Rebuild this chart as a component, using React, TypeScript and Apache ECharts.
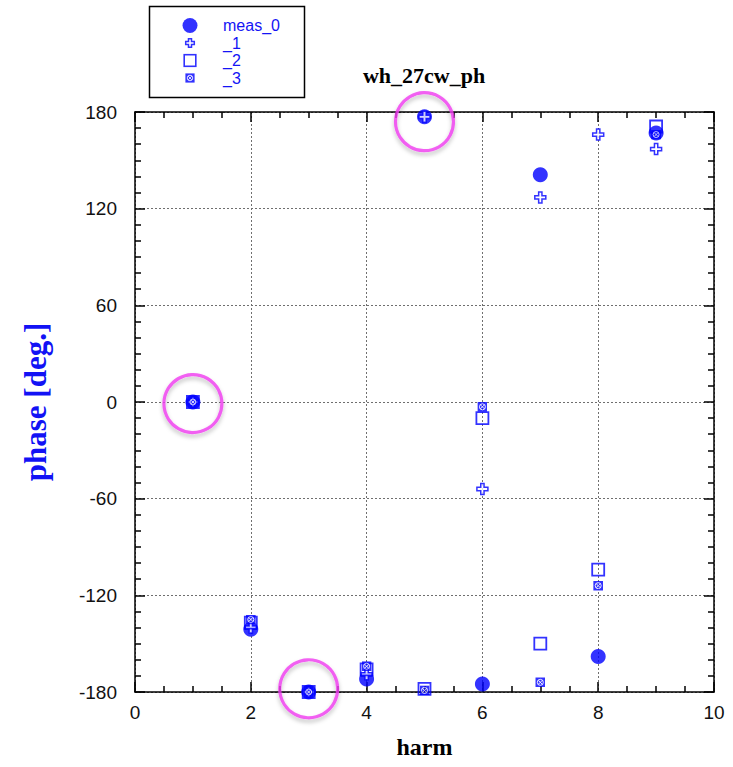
import React, { useEffect, useRef } from "react";
import * as echarts from "echarts";

// harmonic number on the x axis
const harm = [1, 2, 3, 4, 5, 6, 7, 8, 9];
// measured phase per harmonic, degrees
const meas0 = [0, -141, -180, -172, 177, -175, 141, -158, 167];
const meas1 = [0, -140, -180, -169, 177, -54, 127, 166, 157];
const meas2 = [0, -137, -180, -166, -178, -10, -150, -104, 171];
const meas3 = [0, -135, -180, -164, -179, -3, -174, -114, 166];
// hand-drawn highlight rings
const ringX = [1, 3, 5];
const ringY = [-1, -178, 174];

const seriesNames = ["meas_0", "_1", "_2", "_3"];
const xTicks = { min: 0, max: 10, step: 2 };
const yTicks = { min: -180, max: 180, step: 60 };

const BLUE = "#0000ff";
const SANS = "'Liberation Sans', Arial, Helvetica, sans-serif";
const SERIF = "'Liberation Serif', 'Times New Roman', serif";

const svgImage = (w: number, h: number, inner: string) =>
  "image://data:image/svg+xml;utf8," +
  encodeURIComponent(
    `<svg xmlns="http://www.w3.org/2000/svg" width="${w}" height="${h}" viewBox="0 0 ${w} ${h}">${inner}</svg>`
  );

// blue square with a white circled cross
const xCircle = (cx: number, cy: number, s: number) =>
  `<rect x="${cx - s}" y="${cy - s}" width="${2 * s}" height="${2 * s}" fill="${BLUE}"/>` +
  `<circle cx="${cx}" cy="${cy}" r="${0.6 * s}" fill="none" stroke="#fff" stroke-width="${0.18 * s}"/>` +
  `<path d="M${cx - 0.4 * s} ${cy - 0.4 * s}L${cx + 0.4 * s} ${cy + 0.4 * s}M${cx + 0.4 * s} ${cy - 0.4 * s}L${cx - 0.4 * s} ${cy + 0.4 * s}" stroke="#fff" stroke-width="${0.18 * s}"/>`;

const plusPath = (cx: number, cy: number, s: number) => {
  const a = s * 0.35;
  return `M${cx - a} ${cy - s}H${cx + a}V${cy - a}H${cx + s}V${cy + a}H${cx + a}V${cy + s}H${cx - a}V${cy + a}H${cx - s}V${cy - a}H${cx - a}Z`;
};

const PLUS_SYMBOL = "path://M3.5,0H6.5V3.5H10V6.5H6.5V10H3.5V6.5H0V3.5H3.5Z";
const XCIRCLE_SYMBOL = svgImage(10, 10, xCircle(5, 5, 5));

const legendIcons = [
  svgImage(36, 16, `<circle cx="8" cy="8" r="7.5" fill="${BLUE}"/>`),
  svgImage(36, 16, `<path d="${plusPath(8, 8, 4.3)}" fill="#fff" stroke="${BLUE}" stroke-width="1.5"/>`),
  svgImage(36, 16, `<rect x="2.2" y="2.2" width="11.6" height="11.6" fill="none" stroke="${BLUE}" stroke-width="1.6"/>`),
  svgImage(36, 16, xCircle(8, 8, 4.6)),
];

const pairs = (ys: number[]) => harm.map((x, i) => [x, ys[i]]);

const axisLineStyle = { color: "#000", width: 1.5 };

export default function App() {
  const ref = useRef<HTMLDivElement>(null);

  useEffect(() => {
    if (!ref.current) return;
    const chart = echarts.init(ref.current, undefined, { renderer: "svg" });

    const baseX = {
      type: "value" as const,
      min: xTicks.min,
      max: xTicks.max,
      interval: xTicks.step,
      axisLine: { show: true, onZero: false, lineStyle: axisLineStyle },
      axisTick: { show: true, inside: true, length: 10, lineStyle: axisLineStyle },
      minorTick: { show: true, splitNumber: 4, length: 6, lineStyle: axisLineStyle },
    };
    const baseY = {
      type: "value" as const,
      min: yTicks.min,
      max: yTicks.max,
      interval: yTicks.step,
      axisLine: { show: true, onZero: false, lineStyle: axisLineStyle },
      axisTick: { show: true, inside: true, length: 10, lineStyle: axisLineStyle },
      minorTick: { show: true, splitNumber: 6, length: 6, lineStyle: axisLineStyle },
    };
    const dotted = { show: true, lineStyle: { color: "#6f6f6f", width: 1, type: [2, 2] as number[] } };
    const tickFont = { color: "#111", fontFamily: SANS, fontSize: 19 };

    chart.setOption({
      animation: false,
      backgroundColor: "#fff",
      grid: { left: 135, right: 19, top: 112, bottom: 75 },
      legend: {
        orient: "vertical",
        left: 182,
        top: 17.5,
        padding: 0,
        itemWidth: 36,
        itemHeight: 16,
        itemGap: 1.5,
        selectedMode: false,
        data: seriesNames.map((n, i) => ({ name: n, icon: legendIcons[i] })),
        textStyle: { color: "#1414f5", fontFamily: SANS, fontSize: 16, padding: 0 },
      },
      xAxis: [
        {
          ...baseX,
          position: "bottom",
          name: "harm",
          nameLocation: "middle",
          nameGap: 43,
          nameTextStyle: { fontFamily: SERIF, fontWeight: "bold", fontSize: 24, color: "#000" },
          axisLabel: { ...tickFont, margin: 11 },
          splitLine: dotted,
        },
        {
          ...baseX,
          position: "top",
          axisLabel: { show: false },
          splitLine: { show: false },
        },
      ],
      yAxis: [
        {
          ...baseY,
          position: "left",
          name: "phase [deg.]",
          nameLocation: "middle",
          nameGap: 84,
          nameTextStyle: { fontFamily: SERIF, fontWeight: "bold", fontSize: 31, color: "#1212f5" },
          axisLabel: { ...tickFont, margin: 18 },
          splitLine: dotted,
        },
        {
          ...baseY,
          position: "right",
          axisLabel: { show: false },
          splitLine: { show: false },
        },
      ],
      graphic: [
        {
          type: "rect",
          shape: { x: 149.5, y: 6.5, width: 155, height: 91 },
          style: { fill: "none", stroke: "#000", lineWidth: 1.5 },
          z: 10,
        },
        {
          type: "text",
          x: 424,
          y: 75,
          style: {
            text: "wh_27cw_ph",
            align: "center",
            verticalAlign: "middle",
            fill: "#000",
            font: `bold 22px ${SERIF}`,
          },
          z: 10,
        },
      ],
      series: [
        {
          name: seriesNames[0],
          type: "scatter",
          data: pairs(meas0),
          symbol: "circle",
          symbolSize: 15,
          itemStyle: { color: BLUE },
          z: 2,
        },
        {
          name: seriesNames[1],
          type: "scatter",
          data: pairs(meas1),
          symbol: PLUS_SYMBOL,
          symbolSize: 11,
          itemStyle: { color: "#fff", borderColor: BLUE, borderWidth: 1.5 },
          z: 3,
        },
        {
          name: seriesNames[2],
          type: "scatter",
          data: pairs(meas2),
          symbol: "rect",
          symbolSize: 12,
          itemStyle: { color: "rgba(0,0,0,0)", borderColor: BLUE, borderWidth: 1.8 },
          z: 4,
        },
        {
          name: seriesNames[3],
          type: "scatter",
          data: pairs(meas3),
          symbol: XCIRCLE_SYMBOL,
          symbolSize: 10,
          z: 5,
        },
        {
          name: "rings",
          type: "scatter",
          data: ringX.map((x, i) => [x, ringY[i]]),
          symbol: "circle",
          symbolSize: 58,
          silent: true,
          clip: false,
          itemStyle: {
            color: "rgba(0,0,0,0)",
            borderColor: "#f03cf0",
            borderWidth: 3.2,
            shadowColor: "rgba(0,0,0,0.3)",
            shadowBlur: 4,
            shadowOffsetY: 3,
          },
          z: 8,
        },
      ],
    });

    return () => chart.dispose();
  }, []);

  return (
    <div
      ref={ref}
      style={{ position: "absolute", left: 0, top: 0, width: 733, height: 767, background: "#fff" }}
    />
  );
}
